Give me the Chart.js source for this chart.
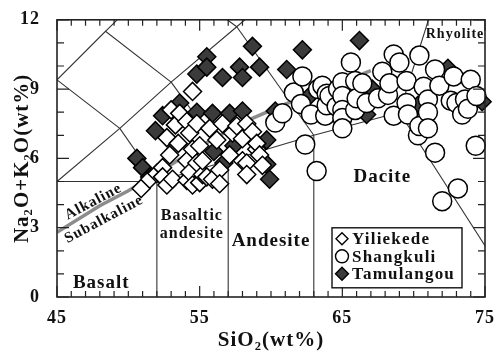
<!DOCTYPE html>
<html>
<head>
<meta charset="utf-8">
<script src="https://cdn.jsdelivr.net/npm/chart.js@4.4.1/dist/chart.umd.min.js"></script>
<style>
  html, body { margin: 0; padding: 0; background: #fff; }
  #wrap { width: 502px; height: 356px; }
</style>
</head>
<body>
<div id="wrap"><canvas id="tas" width="502" height="356"></canvas></div>
<script>
// Total alkali vs. silica (TAS) classification with three volcanic suites.
const xTickLabels = [45, 55, 65, 75];
const yTickLabels = [0, 3, 6, 9, 12];
const seriesNames = ['Yiliekede', 'Shangkuli', 'Tamulangou'];

// [SiO2 wt%, Na2O+K2O wt%]
const yiliekede = [
  [50.9,4.7],[51.5,5.1],[52.0,5.35],[52.4,5.6],[52.4,5.2],[52.7,4.85],[52.9,6.15],[52.7,6.9],
  [53.1,5.1],[53.0,8.1],[53.3,7.45],[53.5,6.65],[53.6,7.95],[54.1,5.9],[54.1,5.05],[54.1,7.6],
  [54.5,8.9],[54.3,5.4],[54.5,6.4],[54.5,4.85],[54.3,7.1],[54.8,7.5],[54.8,5.8],[55.0,6.55],
  [55.0,4.95],[55.2,5.3],[55.2,5.9],[55.5,5.2],[55.7,7.3],[55.9,5.1],[56.2,6.8],[56.4,5.5],
  [56.4,4.9],[56.6,7.5],[57.1,6.15],[57.3,7.1],[57.6,7.4],[58.0,6.85],[58.0,5.9],[58.3,7.5],
  [58.3,5.8],[58.3,5.3],[58.7,7.15],[59.0,6.4],[59.0,6.65],[59.2,6.15],[59.4,5.7]
];
const shangkuli = [
  [60.3,7.55],[60.8,7.95],[61.6,8.85],[62.1,8.35],[62.2,9.55],[62.4,6.6],[62.8,7.9],[63.2,5.45],
  [63.3,9.0],[63.6,9.15],[63.8,7.85],[63.9,8.8],[63.9,8.3],[64.1,8.7],[64.6,8.25],[64.7,9.0],
  [65.0,9.3],[65.0,8.7],[65.0,8.1],[65.0,7.75],[65.0,7.3],[65.6,10.15],[65.9,9.35],[65.9,8.1],
  [66.0,8.6],[66.4,9.25],[66.7,8.4],[67.5,8.6],[67.8,9.75],[68.2,8.75],[68.3,9.25],[68.6,10.5],
  [69.0,10.15],[68.6,7.85],[69.5,9.35],[69.5,8.4],[69.6,7.9],[70.3,7.0],[70.4,7.4],[70.4,10.45],
  [70.7,9.1],[71.0,8.55],[71.0,8.0],[71.0,7.3],[71.5,6.25],[71.5,9.85],[71.8,9.15],[72.0,4.15],
  [72.6,8.5],[72.8,9.55],[73.0,8.4],[73.1,4.7],[73.4,7.9],[73.6,8.55],[73.8,8.15],[74.0,9.4],
  [74.35,6.55],[74.4,8.7]
];
const tamulangou = [
  [50.6,6.0],[51.0,5.6],[51.5,5.2],[51.9,7.2],[52.4,7.85],[53.6,8.4],[54.8,8.0],[55.9,7.95],
  [57.1,7.95],[58.0,8.05],[54.8,9.65],[55.5,10.4],[55.5,9.95],[56.6,9.5],[57.8,9.95],[58.0,9.5],
  [58.7,10.85],[59.2,9.95],[61.1,9.85],[62.2,10.7],[66.2,11.1],[60.3,8.05],[62.7,8.7],[66.7,7.9],
  [67.1,9.0],[70.3,8.3],[72.4,9.9],[74.8,8.45],[56.0,6.3],[57.4,6.55],[56.7,5.8],[59.7,6.8],
  [59.7,5.75],[59.9,5.1]
];

// TAS field boundaries (Le Bas et al., 1986), as polylines in data units
const fieldLines = [
  [[45,5],[52,5]],
  [[52,0],[52,5]],
  [[57,0],[57,5.9]],
  [[63,0],[63,7]],
  [[52,5],[57,5.9],[63,7],[69,8]],
  [[69,8],[77.3,0]],
  [[69,8],[71.8,13.5]],
  [[45,5],[49.4,7.3],[53,9.3],[57.6,11.7],[61,13.5]],
  [[49.4,7.3],[52,5]],
  [[53,9.3],[57,5.9]],
  [[57.6,11.7],[63,7]],
  [[41,7],[45,9.4],[49.4,7.3]],
  [[45,9.4],[48.4,11.5],[53,9.3]],
  [[48.4,11.5],[52.5,14],[57.6,11.7]]
];
// Alkaline / subalkaline divide (Irvine & Baragar, 1971)
const alkalineDivide = [[45,2.8],[48,3.95],[50,4.6],[52,5.35],[55,6.5],[58,7.55],[61,8.35],[67,9.8]];

const fieldNames = ['Basalt', 'Basaltic', 'andesite', 'Andesite', 'Dacite', 'Rhyolite', 'Alkaline', 'Subalkaline'];

const SERIF = "'Liberation Serif','Times New Roman',serif";
const toPts = a => a.map(([x, y]) => ({ x, y }));

const markerStyles = [
  { pointStyle: 'rectRot', pointRadius: 9, backgroundColor: '#ffffff' },
  { pointStyle: 'circle', pointRadius: 9.5, backgroundColor: '#ffffff' },
  { pointStyle: 'rectRot', pointRadius: 9, backgroundColor: '#3b3b3b' }
];
const seriesData = [yiliekede, shangkuli, tamulangou];

const datasets = seriesNames.map((name, i) => ({
  label: name,
  data: toPts(seriesData[i]),
  pointStyle: markerStyles[i].pointStyle,
  pointRadius: markerStyles[i].pointRadius,
  pointBackgroundColor: markerStyles[i].backgroundColor,
  pointBorderColor: '#000',
  pointBorderWidth: 1.5,
  showLine: false,
  clip: false,
  order: i + 1
}));
datasets.push({
  label: 'divide',
  data: toPts(alkalineDivide),
  showLine: true, pointRadius: 0, borderColor: '#8c8c8c', borderWidth: 3.5,
  clip: 0, order: 8
});
fieldLines.forEach(seg => datasets.push({
  label: 'field',
  data: toPts(seg),
  showLine: true, pointRadius: 0, borderColor: '#333', borderWidth: 1.1,
  clip: 0, order: 9
}));

// anchors for field names, in data units
const fieldAnchors = {
  Basalt: { x: 48.1, y: 0.62, size: 19 },
  Basaltic: { x: 54.45, y: 3.5, size: 16 },
  andesite: { x: 54.45, y: 2.72, size: 16 },
  Andesite: { x: 60.0, y: 2.43, size: 19 },
  Dacite: { x: 67.8, y: 5.2, size: 19 },
  Rhyolite: { x: 72.9, y: 11.36, size: 14 },
  Alkaline: { x: 47.55, y: 4.12, size: 15, rot: -28 },
  Subalkaline: { x: 48.3, y: 3.36, size: 15, rot: -28 }
};

const tasDecor = {
  id: 'tasDecor',
  beforeDraw(chart) {
    chart.ctx.letterSpacing = '1px';
  },
  beforeDatasetsDraw(chart) {
    const { ctx, scales: { x, y } } = chart;
    ctx.save();
    ctx.fillStyle = '#111';
    ctx.textAlign = 'center';
    ctx.textBaseline = 'middle';
    ctx.letterSpacing = '1px';
    fieldNames.forEach(name => {
      const a = fieldAnchors[name];
      ctx.save();
      ctx.translate(x.getPixelForValue(a.x), y.getPixelForValue(a.y));
      if (a.rot) ctx.rotate(a.rot * Math.PI / 180);
      ctx.font = `bold ${a.size}px ${SERIF}`;
      ctx.fillText(name, 0, 0);
      ctx.restore();
    });
    ctx.restore();
  },
  afterDraw(chart) {
    const { ctx, chartArea: ca, scales: { x, y } } = chart;
    ctx.save();
    ctx.strokeStyle = '#222';
    ctx.lineWidth = 1.2;
    // inward tick marks on all four sides
    for (let v = 45; v <= 75; v++) {
      const px = x.getPixelForValue(v);
      const len = xTickLabels.includes(v) ? 11 : 6;
      ctx.beginPath();
      ctx.moveTo(px, ca.bottom); ctx.lineTo(px, ca.bottom - len);
      ctx.moveTo(px, ca.top); ctx.lineTo(px, ca.top + len);
      ctx.stroke();
    }
    for (let v = 0; v <= 12; v++) {
      const py = y.getPixelForValue(v);
      const len = yTickLabels.includes(v) ? 12 : 7;
      ctx.beginPath();
      ctx.moveTo(ca.left, py); ctx.lineTo(ca.left + len, py);
      ctx.moveTo(ca.right, py); ctx.lineTo(ca.right - len, py);
      ctx.stroke();
    }
    // frame
    ctx.lineWidth = 1.6;
    ctx.strokeRect(ca.left, ca.top, ca.right - ca.left, ca.bottom - ca.top);

    // legend box
    const lx = ca.right - 153, ly = ca.top + 208, lw = 130, lh = 60;
    ctx.fillStyle = '#fff';
    ctx.fillRect(lx, ly, lw, lh);
    ctx.lineWidth = 1.4;
    ctx.strokeStyle = '#111';
    ctx.strokeRect(lx, ly, lw, lh);
    const legendMarks = [
      { pointStyle: 'rectRot', radius: 6, fill: '#fff' },
      { pointStyle: 'circle', radius: 6.5, fill: '#fff' },
      { pointStyle: 'rectRot', radius: 6.5, fill: '#3b3b3b' }
    ];
    ctx.font = `bold 17px ${SERIF}`;
    ctx.letterSpacing = '1.2px';
    ctx.textAlign = 'left';
    ctx.textBaseline = 'middle';
    seriesNames.forEach((name, i) => {
      const rowY = ly + 11 + i * 17.5;
      const m = legendMarks[i];
      ctx.fillStyle = m.fill;
      ctx.strokeStyle = '#000';
      ctx.lineWidth = 1.4;
      Chart.helpers.drawPoint(ctx, { pointStyle: m.pointStyle, radius: m.radius, borderWidth: 1.4, rotation: 0 }, lx + 10, rowY);
      ctx.fillStyle = '#111';
      ctx.fillText(name, lx + 20, rowY + 1);
    });
    ctx.restore();
  }
};

new Chart(document.getElementById('tas'), {
  type: 'scatter',
  data: { datasets },
  options: {
    responsive: false,
    animation: false,
    events: [],
    layout: { padding: { top: 15, right: 17, left: 0, bottom: 0 } },
    plugins: { legend: { display: false }, tooltip: { enabled: false } },
    scales: {
      x: {
        type: 'linear', min: 45, max: 75,
        grid: { display: false }, border: { display: false },
        ticks: {
          stepSize: 1, autoSkip: false, maxRotation: 0, padding: 3, color: '#111',
          font: { family: SERIF, size: 18, weight: 'bold' },
          callback: v => xTickLabels.includes(v) ? String(v) : ''
        },
        title: {
          display: true, text: 'SiO₂(wt%)', color: '#111',
          font: { family: SERIF, size: 21, weight: 'bold' },
          padding: { top: 0, bottom: 3 }
        },
        afterFit: s => { s.height = 59; }
      },
      y: {
        type: 'linear', min: 0, max: 12,
        grid: { display: false }, border: { display: false },
        ticks: {
          stepSize: 1, autoSkip: false, padding: 9, color: '#111',
          font: { family: SERIF, size: 18, weight: 'bold' },
          callback: v => yTickLabels.includes(v) ? String(v) : ''
        },
        title: {
          display: true, text: 'Na₂O+K₂O(wt%)', color: '#111',
          font: { family: SERIF, size: 21, weight: 'bold' },
          padding: { top: 10, bottom: 0 }
        },
        afterFit: s => { s.width = 57; }
      }
    }
  },
  plugins: [tasDecor]
});
</script>
</body>
</html>
